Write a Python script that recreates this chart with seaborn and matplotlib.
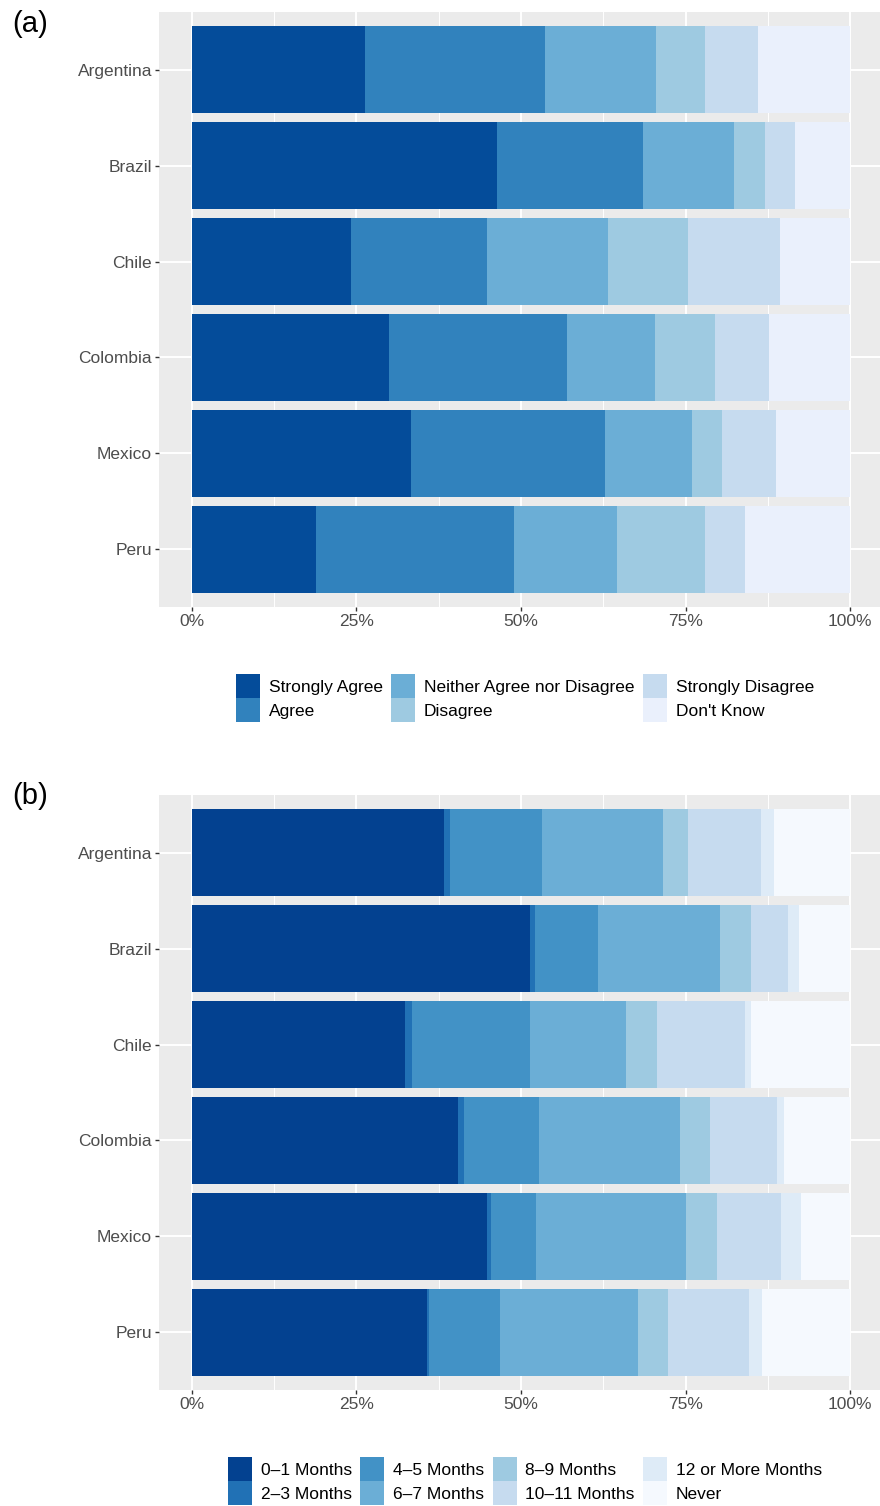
import matplotlib
matplotlib.use("Agg")
import matplotlib.pyplot as plt
import seaborn as sns
import pandas as pd
import numpy as np
from matplotlib.patches import Patch

plt.rcParams['font.family'] = ['Liberation Sans', 'DejaVu Sans']

countries = ["Argentina", "Brazil", "Chile", "Colombia", "Mexico", "Peru"]

# Panel (a)
agree_levels = ["Strongly Agree", "Agree", "Neither Agree nor Disagree",
                "Disagree", "Strongly Disagree", "Don't Know"]
strongly_agree = [26.3, 46.4, 24.2, 29.9, 33.3, 18.9]
agree = [27.4, 22.2, 20.7, 27.1, 29.4, 30.0]
neither = [16.8, 13.7, 18.3, 13.4, 13.3, 15.7]
disagree = [7.4, 4.7, 12.2, 9.0, 4.6, 13.3]
strongly_disagree = [8.1, 4.6, 13.9, 8.3, 8.1, 6.1]
dont_know = [14.0, 8.4, 10.7, 12.3, 11.3, 16.0]
agree_colors = ["#044c9a", "#3182bd", "#6baed6", "#9ecae1", "#c6dbef", "#eaf0fc"]

# Panel (b)
month_levels = ["0–1 Months", "2–3 Months", "4–5 Months", "6–7 Months",
                "8–9 Months", "10–11 Months", "12 or More Months", "Never"]
m0_1 = [38.3, 51.4, 32.4, 40.5, 44.8, 35.7]
m2_3 = [0.9, 0.7, 1.1, 0.9, 0.7, 0.3]
m4_5 = [14.0, 9.6, 17.9, 11.4, 6.8, 10.8]
m6_7 = [18.4, 18.6, 14.5, 21.4, 22.7, 21.0]
m8_9 = [3.8, 4.6, 4.8, 4.5, 4.8, 4.5]
m10_11 = [11.0, 5.7, 13.4, 10.2, 9.7, 12.3]
m12_plus = [2.1, 1.6, 0.8, 1.0, 3.0, 2.0]
never = [11.5, 7.8, 15.1, 10.1, 7.5, 13.4]
month_colors = ["#034190", "#2171b5", "#4292c6", "#6baed6",
                "#9ecae1", "#c6dbef", "#deebf7", "#f5f9fe"]

x_ticks = [0, 25, 50, 75, 100]
x_ticklabels = ["0%", "25%", "50%", "75%", "100%"]

W, H = 880, 1506
fig = plt.figure(figsize=(W / 100, H / 100), dpi=100)


def stacked(ax, series, colors):
    cum = np.zeros(len(countries))
    cums = []
    for s in series:
        cum = cum + np.array(s, dtype=float)
        cums.append(cum.copy())
    for c, col in reversed(list(zip(cums, colors))):
        df = pd.DataFrame({"country": countries, "value": c})
        sns.barplot(data=df, x="value", y="country", orient="h", color=col,
                    saturation=1, width=0.9, ax=ax, order=countries,
                    linewidth=0, errorbar=None)
    ax.set_facecolor("#ebebeb")
    ax.set_xlim(-5, 105)
    ax.set_ylim(5.6, -0.6)
    ax.set_xticks(x_ticks)
    ax.set_xticklabels(x_ticklabels)
    ax.set_xticks([12.5, 37.5, 62.5, 87.5], minor=True)
    ax.set_axisbelow(True)
    ax.grid(which="major", color="white", lw=1.4)
    ax.grid(which="minor", axis="x", color="white", lw=0.7)
    ax.tick_params(which="minor", length=0)
    ax.tick_params(which="major", length=3, width=1, color="#333333",
                   labelsize=12.5, labelcolor="#4d4d4d", pad=2)
    for sp in ax.spines.values():
        sp.set_visible(False)
    ax.set_xlabel("")
    ax.set_ylabel("")


ax1 = fig.add_axes([159 / W, (H - 607) / H, (883 - 159) / W, (607 - 12) / H])
stacked(ax1, [strongly_agree, agree, neither, disagree, strongly_disagree, dont_know],
        agree_colors)
ax2 = fig.add_axes([159 / W, (H - 1390) / H, (883 - 159) / W, (1390 - 795) / H])
stacked(ax2, [m0_1, m2_3, m4_5, m6_7, m8_9, m10_11, m12_plus, never], month_colors)

fig.text(12 / W, 1 - 24 / H, "(a)", fontsize=21, va="center", ha="left")
fig.text(12 / W, 1 - 796 / H, "(b)", fontsize=21, va="center", ha="left")

leg_kw = dict(loc="center", frameon=False, fontsize=12.5, handlelength=1.37,
              handleheight=1.75, handletextpad=0.5, columnspacing=0.5,
              labelspacing=0, borderpad=0, borderaxespad=0)
h1 = [Patch(facecolor=c, edgecolor="none") for c in agree_colors]
fig.legend(h1, agree_levels, ncol=3, bbox_to_anchor=(525 / W, 1 - 698 / H), **leg_kw)
h2 = [Patch(facecolor=c, edgecolor="none") for c in month_colors]
fig.legend(h2, month_levels, ncol=4, bbox_to_anchor=(525 / W, 1 - 1481 / H), **leg_kw)

fig.savefig("out.png", dpi=100)
